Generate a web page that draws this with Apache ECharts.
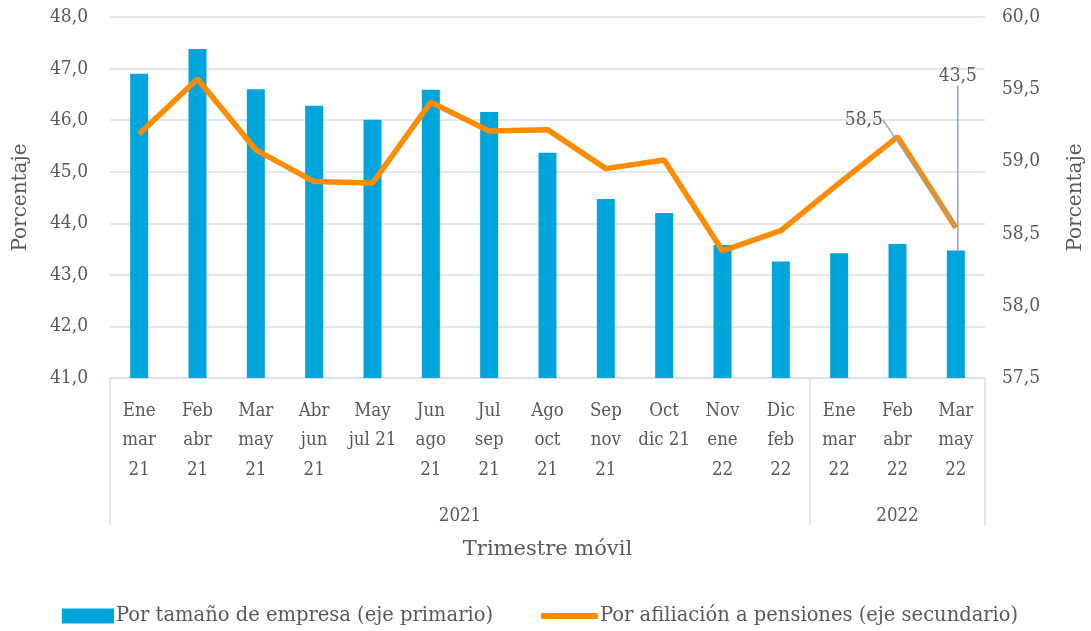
<!DOCTYPE html>
<html><head><meta charset="utf-8">
<script src="https://cdn.jsdelivr.net/npm/echarts@6/dist/echarts.min.js"></script>
<style>html,body{margin:0;padding:0;background:#fff}#c{width:1091px;height:631px}</style>
</head><body><div id="c"></div>
<script>
const categories = ['Ene\nmar\n21','Feb\nabr\n21','Mar\nmay\n21','Abr\njun\n21','May\njul 21','Jun\nago\n21','Jul\nsep\n21','Ago\noct\n21','Sep\nnov\n21','Oct\ndic 21','Nov\nene\n22','Dic\nfeb\n22','Ene\nmar\n22','Feb\nabr\n22','Mar\nmay\n22'];
const groupLabels = ['2021', '2022'];
const empresa = [46.90, 47.38, 46.60, 46.28, 46.01, 46.59, 46.16, 45.37, 44.47, 44.20, 43.58, 43.26, 43.42, 43.60, 43.47];
const pensiones = [59.19, 59.57, 59.08, 58.86, 58.85, 59.41, 59.21, 59.22, 58.95, 59.01, 58.38, 58.52, 58.85, 59.17, 58.54];
const seriesNames = ['Por tamaño de empresa (eje primario)', 'Por afiliación a pensiones (eje secundario)'];
const labeledIndex = 14;

const FONT = "'DejaVu Serif', serif";
const FONTC = "'DejaVu Serif Condensed', 'DejaVu Serif', serif";
const TXT = '#595959';
const GRID = '#d9dfe9';
const fmt1 = v => v.toFixed(1).replace('.', ',');

// secondary category axis for group labels (boundaryGap false, half-category steps)
const groupAxisData = [];
for (let i = 0; i <= categories.length * 2; i++) groupAxisData.push('');
groupAxisData[12] = groupLabels[0];
groupAxisData[27] = groupLabels[1];

const chart = echarts.init(document.getElementById('c'));
chart.setOption({
  backgroundColor: '#fff',
  textStyle: { fontFamily: FONT, color: TXT },
  grid: { left: 110, right: 106, top: 17, bottom: 253, containLabel: false, outerBoundsMode: 'none' },
  legend: [
    { data: [seriesNames[0]], left: 62, top: 606, padding: 0, icon: 'rect', itemWidth: 52, itemHeight: 15, itemGap: 0,
      textStyle: { fontFamily: FONT, color: TXT, fontSize: 19.5, padding: [0,0,0,-3] } },
    { data: [seriesNames[1]], left: 541, top: 606, padding: 0, icon: 'roundRect', itemWidth: 57, itemHeight: 6, itemGap: 0,
      textStyle: { fontFamily: FONT, color: TXT, fontSize: 19.5, padding: [0,0,0,-3] } }
  ],
  xAxis: [
    { type: 'category', data: categories, position: 'bottom',
      axisLine: { lineStyle: { color: GRID, width: 1.5 } },
      axisTick: { show: true, length: 147, interval: (i) => i === 0 || i === 12, lineStyle: { color: GRID, width: 1.5 } },
      axisLabel: { interval: 0, margin: 18, fontFamily: FONTC, fontSize: 18.5, color: TXT, lineHeight: 29.5 },
      splitLine: { show: false } },
    { type: 'category', data: groupAxisData, position: 'bottom', boundaryGap: false,
      axisLine: { show: false }, axisTick: { show: false },
      axisLabel: { interval: 0, margin: 129, fontFamily: FONTC, fontSize: 18.5, color: TXT },
      name: 'Trimestre móvil', nameLocation: 'middle', nameGap: 161,
      nameTextStyle: { fontFamily: FONT, fontSize: 21, color: TXT } }
  ],
  yAxis: [
    { type: 'value', min: 41, max: 48, interval: 1, position: 'left',
      axisLine: { show: false }, axisTick: { show: false },
      axisLabel: { formatter: fmt1, margin: 22, fontFamily: FONTC, fontSize: 19, color: TXT },
      splitLine: { lineStyle: { color: GRID, width: 1.5 } },
      name: 'Porcentaje', nameLocation: 'middle', nameGap: 79, nameRotate: 90,
      nameTextStyle: { fontFamily: FONT, fontSize: 20, color: TXT } },
    { type: 'value', min: 57.5, max: 60, interval: 0.5, position: 'right',
      axisLine: { show: false }, axisTick: { show: false },
      axisLabel: { formatter: fmt1, margin: 17, fontFamily: FONTC, fontSize: 19, color: TXT },
      splitLine: { show: false },
      name: 'Porcentaje', nameLocation: 'middle', nameGap: 81, nameRotate: 90,
      nameTextStyle: { fontFamily: FONT, fontSize: 20, color: TXT } }
  ],
  series: [
    { name: seriesNames[0], type: 'bar', xAxisIndex: 0, yAxisIndex: 0, barWidth: 18,
      itemStyle: { color: '#00A5DB' },
      data: empresa.map((v, i) => i === labeledIndex
        ? { value: v, label: { show: true, position: 'top', formatter: p => fmt1(p.value), fontFamily: FONTC, fontSize: 19, color: TXT } }
        : v),
      labelLine: { show: true, lineStyle: { color: '#8fa3c4', width: 1.5 } },
      labelLayout: { dx: 2, dy: -160 },
      z: 2 },
    { name: seriesNames[1], type: 'line', xAxisIndex: 0, yAxisIndex: 1,
      symbol: 'circle', symbolSize: 1, showSymbol: true,
      lineStyle: { color: '#FF8C00', width: 5.5 }, itemStyle: { color: '#FF8C00' },
      data: pensiones.map((v, i) => i === labeledIndex
        ? { value: v, label: { show: true, position: 'top', formatter: p => fmt1(p.value), fontFamily: FONTC, fontSize: 19, color: TXT } }
        : v),
      labelLine: { show: true, lineStyle: { color: '#8fa3c4', width: 1.5 } },
      labelLayout: { dx: -92, dy: -93 },
      z: 3 }
  ]
});
</script>
</body></html>
